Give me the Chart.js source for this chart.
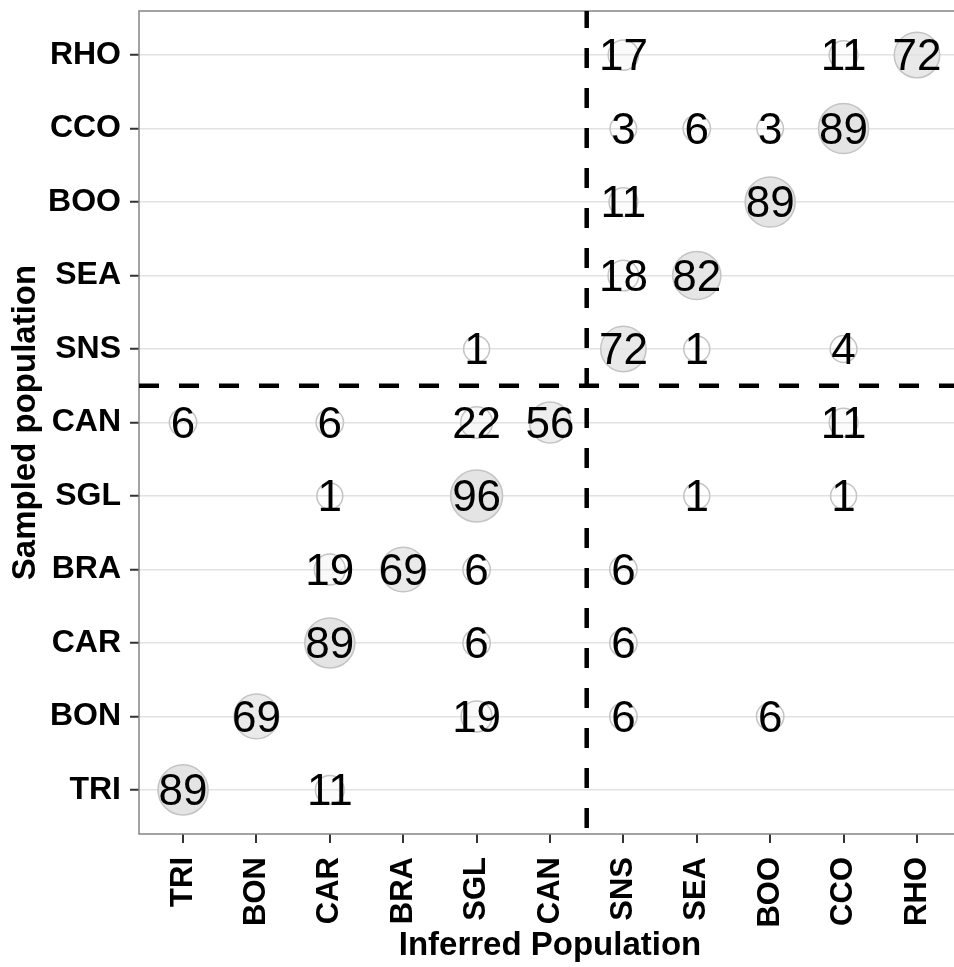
<!DOCTYPE html>
<html>
<head>
<meta charset="utf-8">
<script src="https://cdn.jsdelivr.net/npm/chart.js@4/dist/chart.umd.min.js"></script>
<style>
    html, body { margin: 0; padding: 0; overflow: hidden; background: #fff; }
    canvas { display: block; }
</style>
</head>
<body>
<canvas id="myChart" width="970" height="967"></canvas>
<script>
const populations = ['TRI', 'BON', 'CAR', 'BRA', 'SGL', 'CAN', 'SNS', 'SEA', 'BOO', 'CCO', 'RHO'];

// one entry per bubble: sampled population (row), inferred population (column), percent
const sampled = [
    'RHO', 'RHO', 'RHO',
    'CCO', 'CCO', 'CCO', 'CCO',
    'BOO', 'BOO',
    'SEA', 'SEA',
    'SNS', 'SNS', 'SNS', 'SNS',
    'CAN', 'CAN', 'CAN', 'CAN', 'CAN',
    'SGL', 'SGL', 'SGL', 'SGL',
    'BRA', 'BRA', 'BRA', 'BRA',
    'CAR', 'CAR', 'CAR',
    'BON', 'BON', 'BON', 'BON',
    'TRI', 'TRI'
];
const inferred = [
    'SNS', 'CCO', 'RHO',
    'SNS', 'SEA', 'BOO', 'CCO',
    'SNS', 'BOO',
    'SNS', 'SEA',
    'SGL', 'SNS', 'SEA', 'CCO',
    'TRI', 'CAR', 'SGL', 'CAN', 'CCO',
    'CAR', 'SGL', 'SEA', 'CCO',
    'CAR', 'BRA', 'SGL', 'SNS',
    'CAR', 'SGL', 'SNS',
    'BON', 'SGL', 'SNS', 'BOO',
    'TRI', 'CAR'
];
const percent = [
    17, 11, 72,
    3, 6, 3, 89,
    11, 89,
    18, 82,
    1, 72, 1, 4,
    6, 6, 22, 56, 11,
    1, 96, 1, 1,
    19, 69, 6, 6,
    89, 6, 6,
    69, 19, 6, 6,
    89, 11
];

// group boundary (between CAN and SNS)
const splitAt = 5.5;

const fontFamily = "'Liberation Sans', Arial, Helvetica, sans-serif";

const points = percent.map((v, i) => ({
    x: populations.indexOf(inferred[i]),
    y: populations.indexOf(sampled[i]),
    r: 13 + 13 * (v - 1) / 95,
    v: v
}));

const panelPlugin = {
    id: 'panel',
    beforeDatasetsDraw(chart) {
        const { ctx, chartArea } = chart;
        ctx.save();
        ctx.strokeStyle = '#858585';
        ctx.lineWidth = 1.5;
        ctx.strokeRect(chartArea.left, chartArea.top, chartArea.right - chartArea.left, chartArea.bottom - chartArea.top);
        ctx.restore();
    },
    afterDatasetsDraw(chart) {
        const { ctx, chartArea, scales } = chart;
        const xs = scales.x.getPixelForValue(splitAt);
        const ys = scales.y.getPixelForValue(splitAt);

        ctx.save();
        ctx.beginPath();
        ctx.rect(chartArea.left, chartArea.top, chartArea.right - chartArea.left, chartArea.bottom - chartArea.top);
        ctx.clip();
        ctx.strokeStyle = '#000';
        ctx.lineWidth = 4.5;
        ctx.setLineDash([20, 20]);

        ctx.lineDashOffset = 3;
        ctx.beginPath();
        ctx.moveTo(xs, chartArea.top);
        ctx.lineTo(xs, chartArea.bottom);
        ctx.stroke();

        ctx.lineDashOffset = 0;
        ctx.beginPath();
        ctx.moveTo(chartArea.left, ys);
        ctx.lineTo(chartArea.right, ys);
        ctx.stroke();
        ctx.restore();

        // percent labels on top of the bubbles
        ctx.save();
        ctx.font = '44px ' + fontFamily;
        ctx.fillStyle = '#000';
        ctx.textAlign = 'center';
        ctx.textBaseline = 'middle';
        points.forEach((p) => {
            ctx.fillText(String(p.v), scales.x.getPixelForValue(p.x), scales.y.getPixelForValue(p.y) + 3);
        });
        ctx.restore();
    }
};

const setTicks = (scale) => {
    scale.ticks = populations.map((_, i) => ({ value: i }));
};

const ChartRef = document.getElementById('myChart').getContext('2d');
const PopChart = new Chart(ChartRef, {
    type: 'bubble',
    data: {
        datasets: [{
            data: points,
            backgroundColor: (c) => {
                const v = c.raw ? c.raw.v : 0;
                return `rgba(228,228,228,${Math.min(1, v / 90)})`;
            },
            borderColor: '#c4c4c4',
            borderWidth: 1.5
        }]
    },
    options: {
        responsive: false,
        animation: false,
        layout: {
            // bubbles never reach the panel edge, so skip the bubble overflow padding
            autoPadding: false,
            padding: { top: 11, right: 9, left: 0, bottom: 0 }
        },
        plugins: {
            legend: { display: false },
            tooltip: { enabled: false }
        },
        scales: {
            x: {
                type: 'linear',
                position: 'bottom',
                min: -0.6,
                max: 10.6,
                afterBuildTicks: setTicks,
                afterFit: (scale) => {
                    scale.height = 133;
                    scale.paddingLeft = 0;
                    scale.paddingRight = 0;
                },
                border: { display: false },
                grid: {
                    drawOnChartArea: false,
                    drawTicks: true,
                    tickLength: 9,
                    tickColor: '#333',
                    lineWidth: 2
                },
                ticks: {
                    autoSkip: false,
                    minRotation: 90,
                    maxRotation: 90,
                    padding: 14,
                    color: '#000',
                    font: { family: fontFamily, size: 31, weight: 'bold' },
                    callback: (v) => populations[v]
                },
                title: {
                    display: true,
                    text: 'Inferred Population',
                    color: '#000',
                    font: { family: fontFamily, size: 33, weight: 'bold' },
                    padding: { top: 0, bottom: 1 }
                }
            },
            y: {
                type: 'linear',
                position: 'left',
                min: -0.6,
                max: 10.6,
                afterBuildTicks: setTicks,
                afterFit: (scale) => {
                    scale.width = 139;
                    scale.paddingTop = 0;
                    scale.paddingBottom = 0;
                },
                border: { display: false },
                grid: {
                    color: '#e2e2e2',
                    lineWidth: 1.5,
                    drawTicks: true,
                    tickLength: 9,
                    tickColor: '#333',
                    tickWidth: 2
                },
                ticks: {
                    padding: 9,
                    color: '#000',
                    font: { family: fontFamily, size: 32, weight: 'bold' },
                    callback: (v) => populations[v]
                },
                title: {
                    display: true,
                    text: 'Sampled population',
                    color: '#000',
                    font: { family: fontFamily, size: 33, weight: 'bold' },
                    padding: { top: 6, bottom: 0 }
                }
            }
        }
    },
    plugins: [panelPlugin]
});
</script>
</body>
</html>
